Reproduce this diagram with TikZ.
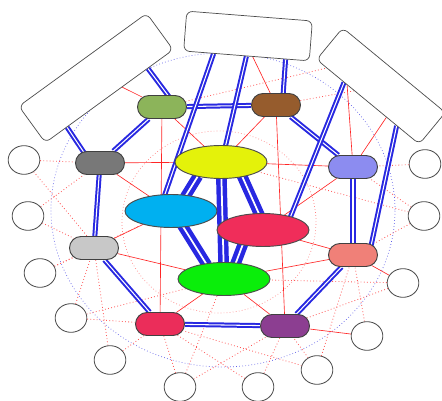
\documentclass[tikz,border=0pt]{standalone}
\usetikzlibrary{shapes.geometric, shapes.misc, backgrounds, calc}

\begin{document}
\begin{tikzpicture}[
		x=0.03cm, y=-0.03cm,
		grand/.style={
			ellipse,
			draw=black!70,
			line width=0.8pt,
			minimum width=2.76cm,
			minimum height=0.99cm,
			inner sep=0pt,
		},
		pilule/.style={
			rounded rectangle,
			draw=black!75,
			line width=0.8pt,
			minimum width=1.47cm,
			minimum height=0.69cm,
			inner sep=0pt,
		},
		hote/.style={
			ellipse,
			draw=black!70,
			line width=0.7pt,
			fill=white,
			minimum width=0.95cm,
			minimum height=0.86cm,
			inner sep=0pt,
		},
		boite/.style={
			draw=black!70,
			line width=0.6pt,
			rounded corners=5pt,
			fill=white,
			inner sep=0pt,
		},
		liena/.style={draw=bleu, double=white, line width=1.7pt, double distance=0.9pt},
		lienf/.style={draw=bleu, double=white, line width=3.8pt, double distance=1.5pt},
		rouge/.style={draw=red!85, line width=0.55pt},
		pointille/.style={draw=red!65, line width=0.7pt, dotted},
	]

		% Couleurs
		\definecolor{bleu}{RGB}{40,40,225}
		\definecolor{jaune}{RGB}{228,242,10}
		\definecolor{ciel}{RGB}{0,176,240}
		\definecolor{rose}{RGB}{240,45,90}
		\definecolor{vert}{RGB}{10,238,10}
		\definecolor{olive}{RGB}{140,180,90}
		\definecolor{brun}{RGB}{150,92,45}
		\definecolor{gris}{RGB}{120,120,120}
		\definecolor{lavande}{RGB}{140,140,240}
		\definecolor{grisclair}{RGB}{200,200,200}
		\definecolor{saumon}{RGB}{240,128,120}
		\definecolor{cerise}{RGB}{235,45,90}
		\definecolor{violet}{RGB}{140,62,145}

		\useasboundingbox (0,0) rectangle (442,401);

		% Noeuds centraux
		\node[grand, fill=jaune] (yel) at (221,162) {};
		\node[grand, fill=ciel] (cya) at (171,211) {};
		\node[grand, fill=rose] (ros) at (263,230) {};
		\node[grand, fill=vert] (gre) at (224,279) {};

		% Noeuds intermediaires
		\node[pilule, fill=olive] (oli) at (162,107) {};
		\node[pilule, fill=brun] (bro) at (276,105) {};
		\node[pilule, fill=gris] (dgr) at (100,163) {};
		\node[pilule, fill=lavande] (lbl) at (353,167) {};
		\node[pilule, fill=grisclair] (lgr) at (94,248) {};
		\node[pilule, fill=saumon] (sal) at (353,255) {};
		\node[pilule, fill=cerise] (cri) at (160,324) {};
		\node[pilule, fill=violet] (pur) at (285,326) {};

		% Hotes (gauche puis droite)
		\node[hote] (l1) at (24,160) {};
		\node[hote] (l2) at (28,216) {};
		\node[hote] (l3) at (40,273) {};
		\node[hote] (l4) at (71,318) {};
		\node[hote] (l5) at (110,360) {};
		\node[hote] (l6) at (180,387) {};
		\node[hote] (r1) at (425,164) {};
		\node[hote] (r2) at (424,216) {};
		\node[hote] (r3) at (403,283) {};
		\node[hote] (r4) at (367,336) {};
		\node[hote] (r5) at (317,370) {};
		\node[hote] (r6) at (258,387) {};

		% Boites du haut
		\node[boite, minimum width=4.74cm, minimum height=1.35cm, rotate=36] (boxl) at (96,78) {};
		\node[boite, minimum width=3.78cm, minimum height=1.2cm, rotate=-4.5] (boxt) at (248,36) {};
		\node[boite, minimum width=3.99cm, minimum height=1.23cm, rotate=-39.5] (boxr) at (381,86) {};

		\begin{scope}[on background layer]
			% Anneaux
			\draw[draw=bleu!75, line width=0.6pt, dotted] (223,210) ellipse [x radius=5.16cm, y radius=4.71cm];
			\draw[draw=red!50, line width=0.6pt, dotted] (219,222) ellipse [x radius=2.91cm, y radius=2.73cm];

			% Liens rouges
			\draw[rouge] (dgr) -- (yel);
			\draw[rouge] (dgr) -- (cya);
			\draw[rouge] (oli) -- (yel);
			\draw[rouge] (oli) -- (cri);
			\draw[rouge] (bro) -- (yel);
			\draw[rouge] (bro) -- (pur);
			\draw[rouge] (lbl) -- (yel);
			\draw[rouge] (lbl) -- (ros);
			\draw[rouge] (sal) -- (ros);
			\draw[rouge] (sal) -- (gre);
			\draw[rouge] (gre) -- (pur);
			\draw[rouge] (gre) -- (cri);
			\draw[rouge] (lgr) -- (cya);
			\draw[rouge] (lgr) -- (gre);
			\draw[rouge] (pur) -- (r4);
			\draw[rouge] (sal) -- (r3);
			\draw[rouge] ($(boxr.south west)!0.3!(boxr.south east)$) -- (lbl);
			\draw[rouge] ($(boxr.south west)!0.68!(boxr.south east)$) -- (lbl);
			\draw[rouge] ($(boxt.south west)!0.55!(boxt.south east)$) -- (bro);
			\draw[rouge] ($(boxl.south west)!0.6!(boxl.south east)$) -- (oli);

			% Liens pointilles
			\draw[pointille] (l1) -- (dgr);
			\draw[pointille] (l1) -- (cri);
			\draw[pointille] (l2) -- (dgr);
			\draw[pointille] (l2) -- (lgr);
			\draw[pointille] (l3) -- (lgr);
			\draw[pointille] (l3) -- (cya);
			\draw[pointille] (l4) -- (lgr);
			\draw[pointille] (l4) -- (cri);
			\draw[pointille] (l4) -- (gre);
			\draw[pointille] (l5) -- (lgr);
			\draw[pointille] (l5) -- (cri);
			\draw[pointille] (l6) -- (cri);
			\draw[pointille] (l6) -- (gre);
			\draw[pointille] (l6) -- (pur);
			\draw[pointille] (r6) -- (pur);
			\draw[pointille] (r6) -- (cri);
			\draw[pointille] (r5) -- (cri);
			\draw[pointille] (r5) -- (pur);
			\draw[pointille] (r5) -- (sal);
			\draw[pointille] (r4) -- (sal);
			\draw[pointille] (r3) -- (gre);
			\draw[pointille] (r3) -- (pur);
			\draw[pointille] (r2) -- (sal);
			\draw[pointille] (r2) -- (lbl);
			\draw[pointille] (r2) -- (yel);
			\draw[pointille] (r1) -- (lbl);
			\draw[pointille] (boxr) -- (bro);
			\draw[pointille] (oli) -- ($(boxr.south west)!0.1!(boxr.south east)$);

			% Liens bleus
			\draw[liena] ($(boxl.south west)!0.17!(boxl.south east)$) -- ($(dgr.north)+(-15,3)$);
			\draw[liena] ($(boxl.south west)!0.8!(boxl.south east)$) -- ($(oli.north)+(8,3)$);
			\draw[liena] (oli) -- (dgr);
			\draw[liena] (oli) -- (bro);
			\draw[liena] ($(boxt.south west)!0.24!(boxt.south east)$) -- ($(cya.north)+(-7,3)$);
			\draw[liena] (boxt.south) -- ($(yel.north)+(4,3)$);
			\draw[liena] ($(boxt.south west)!0.81!(boxt.south east)$) -- ($(bro.north)+(7,3)$);
			\draw[liena] (bro) -- (lbl);
			\draw[liena] ($(boxr.south west)!0.27!(boxr.south east)$) -- ($(ros.north)+(27,5)$);
			\draw[liena] ($(boxr.south west)!0.78!(boxr.south east)$) -- ($(sal.north)+(18,3)$);
			\draw[liena] (lbl) -- (sal);
			\draw[liena] (sal) -- (pur);
			\draw[liena] (dgr) -- (lgr);
			\draw[liena] (lgr) -- (cri);
			\draw[liena] (cri) -- (pur);

			% Liens du coeur
			\draw[lienf] ($(yel.south)+(-23,-3)$) -- ($(cya.north)+(14,3)$);
			\draw[lienf] (yel) -- (gre);
			\draw[lienf] ($(yel.south)+(21,-3)$) -- ($(ros.north)+(-3,3)$);
			\draw[lienf] ($(cya.south)+(11,-3)$) -- ($(gre.north)+(-17,3)$);
			\draw[lienf] ($(ros.south)+(-20,-3)$) -- ($(gre.north)+(11,3)$);
		\end{scope}

	\end{tikzpicture}
\end{document}
